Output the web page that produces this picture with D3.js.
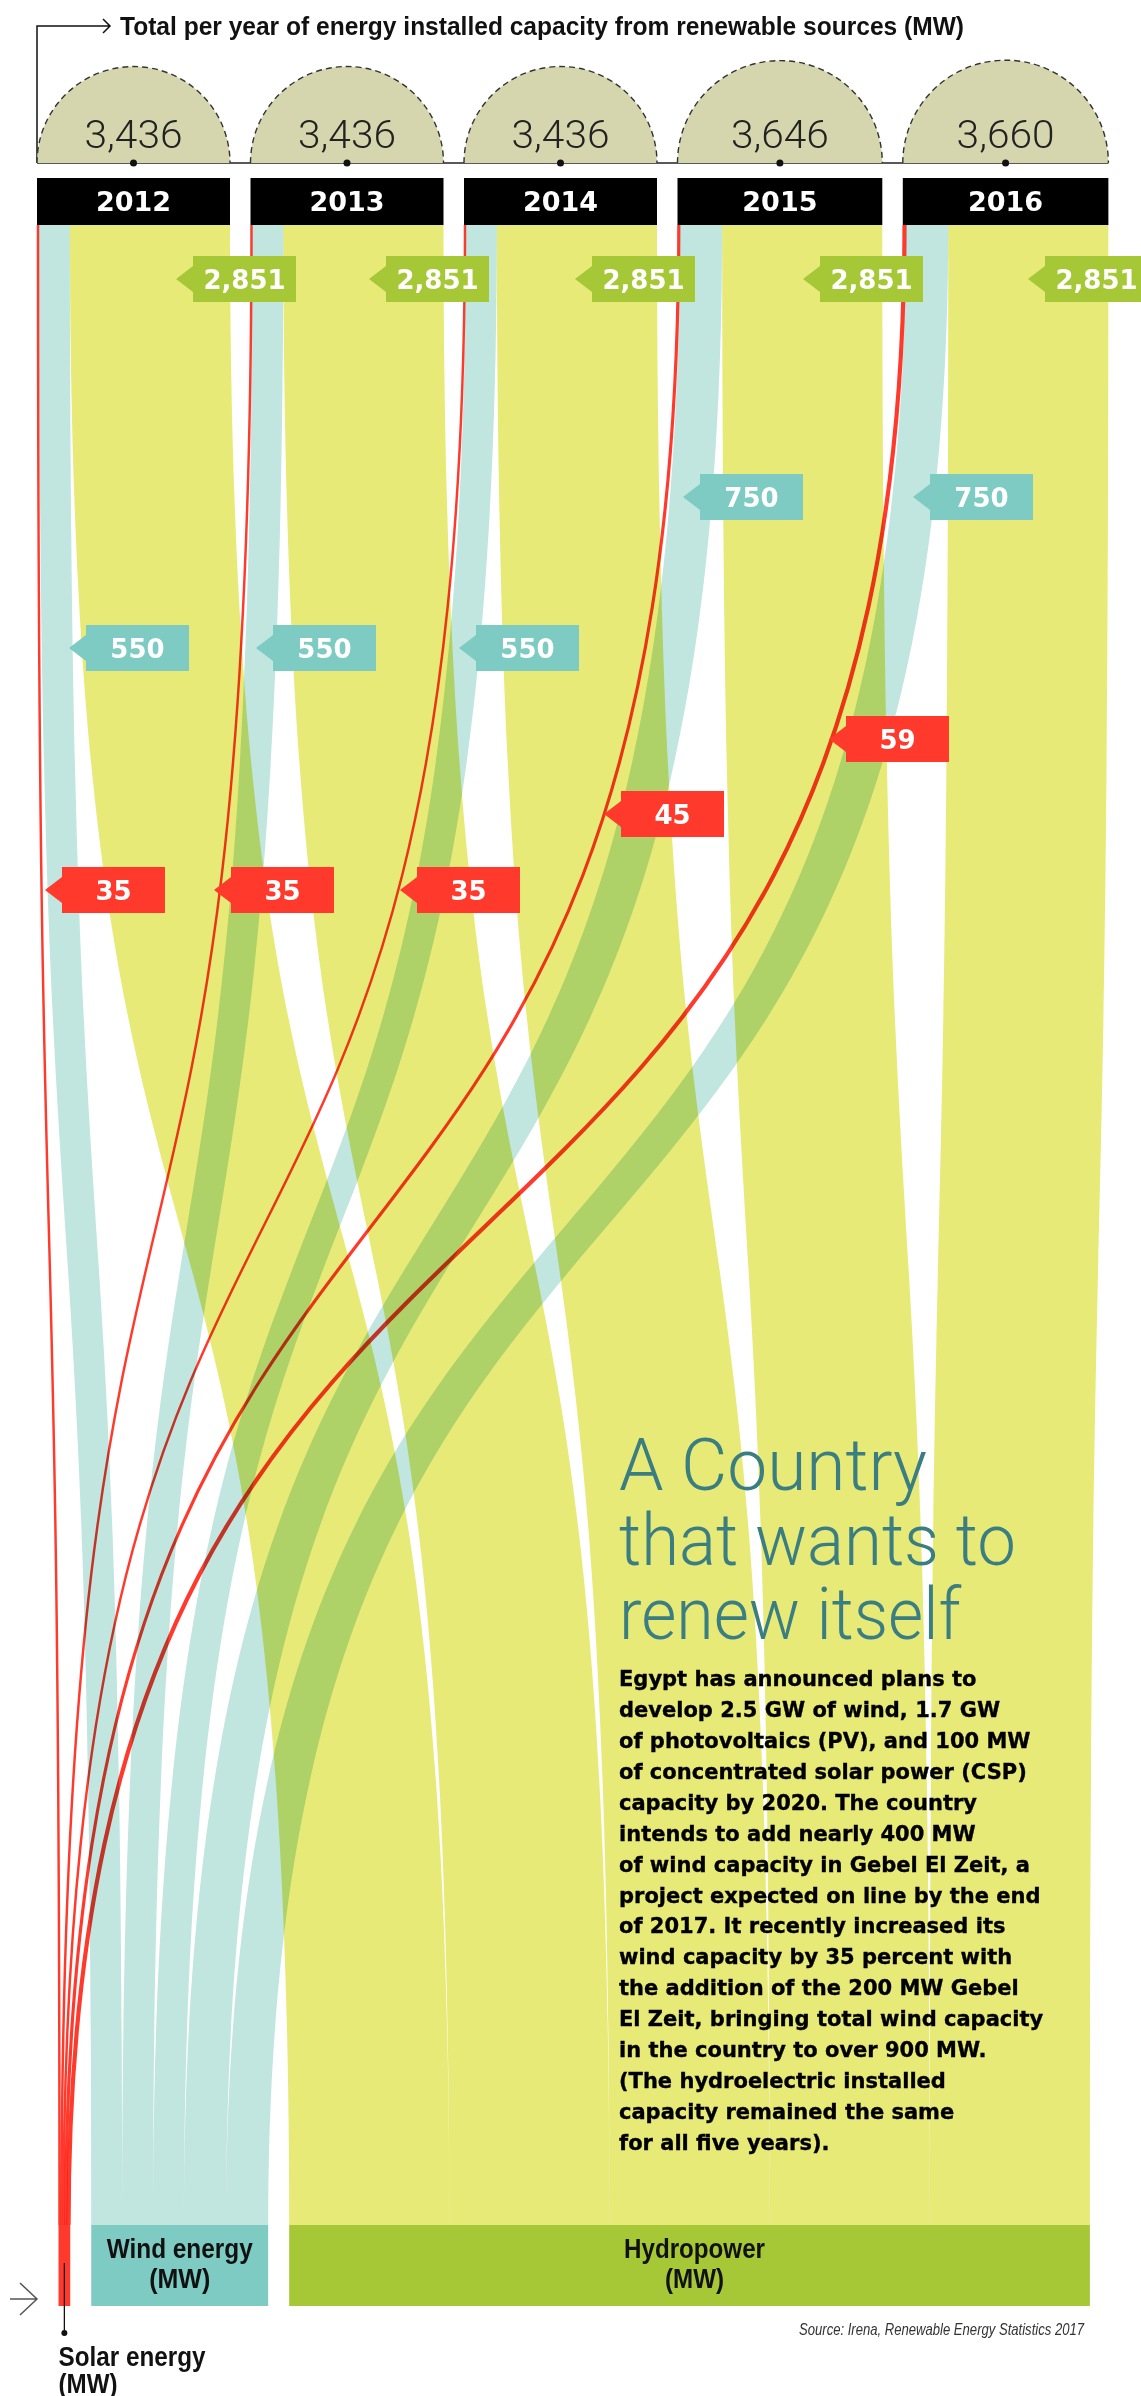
<!DOCTYPE html>
<html>
<head>
<meta charset="utf-8">
<script src="https://cdn.jsdelivr.net/npm/d3@7"></script>
<style>
  html, body { margin: 0; padding: 0; background: #fff; }
  svg { display: block; }
</style>
</head>
<body>
<script>
// ---------------- DATA ----------------
const years = ["2012", "2013", "2014", "2015", "2016"];
const solarMW = [35, 35, 35, 45, 59];
const windMW = [550, 550, 550, 750, 750];
const hydroMW = [2851, 2851, 2851, 2851, 2851];
const sourceLabels = [["Solar energy", "(MW)"], ["Wind energy", "(MW)"], ["Hydropower", "(MW)"]];
const titleText = "Total per year of energy installed capacity from renewable sources (MW)";
const headingLines = ["A Country", "that wants to", "renew itself"];
const bodyLines = [
  "Egypt has announced plans to",
  "develop 2.5 GW of wind, 1.7 GW",
  "of photovoltaics (PV), and 100 MW",
  "of concentrated solar power (CSP)",
  "capacity by 2020. The country",
  "intends to add nearly 400 MW",
  "of wind capacity in Gebel El Zeit, a",
  "project expected on line by the end",
  "of 2017. It recently increased its",
  "wind capacity by 35 percent with",
  "the addition of the 200 MW Gebel",
  "El Zeit, bringing total wind capacity",
  "in the country to over 900 MW.",
  "(The hydroelectric installed",
  "capacity remained the same",
  "for all five years)."
];
const sourceNote = "Source: Irena, Renewable Energy Statistics 2017";

// ---------------- LAYOUT (positions / styles, not data) ----------------
const W = 1141, H = 2396;
const colors = {
  solar: "#ff3a2d", wind: "#c1e5df", hydro: "#e8ea77",
  solarTag: "#ff3a2d", windTag: "#7dcbc2", hydroTag: "#a6c837",
  dome: "#d6d6ae", heading: "#3b7e82"
};
const topX0 = 37, topGap = 20.5, botX0 = 58.5, botGap = 21;
const yTop = 225, yBot = 2225, nodeBottom = 2306, curv = 0.6;
const baseY = 163;
// tag anchor (arrow tip) positions, hand placed like the original
const tagTips = {
  hydro: { x: [176, 369, 575, 803, 1028], y: [279, 279, 279, 279, 279] },
  wind:  { x: [69, 256, 459, 683, 913],   y: [648, 648, 648, 497, 497] },
  solar: { x: [45, 214, 400, 604, 829],   y: [890, 890, 890, 814, 739] }
};

const svg = d3.select("body").append("svg")
  .attr("width", W).attr("height", H).attr("viewBox", `0 0 ${W} ${H}`);
svg.append("rect").attr("width", W).attr("height", H).attr("fill", "#fff");

const totals = years.map((_, i) => solarMW[i] + windMW[i] + hydroMW[i]);
const px = d3.scaleLinear().domain([0, totals[0]]).range([0, 193]);
const fmt = d3.format(",");

// top segments
const series = [
  { key: "solar", vals: solarMW },
  { key: "wind", vals: windMW },
  { key: "hydro", vals: hydroMW }
];
const cols = [];
let cx = topX0;
years.forEach((y, i) => {
  const c = { year: y, x0: cx, total: totals[i], seg: {} };
  let x = cx;
  series.forEach(s => { const w = px(s.vals[i]); c.seg[s.key] = [x, x + w]; x += w; });
  c.x1 = x;
  cols.push(c);
  cx = x + topGap;
});
// bottom nodes
const nodes = {};
let bx = botX0;
series.forEach(s => {
  const n = { x0: bx, parts: [] };
  let x = bx;
  s.vals.forEach(v => { const w = px(v); n.parts.push([x, x + w]); x += w; });
  n.x1 = x;
  nodes[s.key] = n;
  bx = x + botGap;
});

const dyAll = yBot - yTop;
function flowPath(a0, a1, b0, b1) {
  const p = d3.path();
  p.moveTo(a0, yTop);
  p.bezierCurveTo(a0, yTop + curv * dyAll, b0, yBot - curv * dyAll, b0, yBot);
  p.lineTo(b1, yBot);
  p.bezierCurveTo(b1, yBot - curv * dyAll, a1, yTop + curv * dyAll, a1, yTop);
  p.closePath();
  return p.toString();
}
function linePath(a, b) {
  const p = d3.path();
  p.moveTo(a, yTop);
  p.bezierCurveTo(a, yTop + curv * dyAll, b, yBot - curv * dyAll, b, yBot);
  return p.toString();
}

// flows
const gFlows = svg.append("g");
["hydro", "wind"].forEach(key => {
  years.forEach((y, i) => {
    const a = cols[i].seg[key], b = nodes[key].parts[i];
    gFlows.append("path")
      .attr("d", flowPath(a[0], a[1], b[0], b[1]))
      .attr("fill", colors[key])
      .style("mix-blend-mode", "multiply");
  });
});
years.forEach((y, i) => {
  const a = cols[i].seg.solar, b = nodes.solar.parts[i];
  gFlows.append("path")
    .attr("d", linePath((a[0] + a[1]) / 2, (b[0] + b[1]) / 2))
    .attr("fill", "none").attr("stroke", colors.solar)
    .attr("stroke-width", (a[1] - a[0]) * 1.25)
    .style("mix-blend-mode", "multiply");
});

// bottom node boxes
const nodeFill = { solar: colors.solar, wind: colors.windTag, hydro: colors.hydroTag };
series.forEach(s => {
  svg.append("rect")
    .attr("x", nodes[s.key].x0).attr("y", yBot)
    .attr("width", nodes[s.key].x1 - nodes[s.key].x0)
    .attr("height", nodeBottom - yBot)
    .attr("fill", nodeFill[s.key]);
});
const condensed = "'Liberation Sans Narrow','Liberation Sans',Arial,sans-serif";
function condText(g, txt, x, y, size, len, anchor) {
  return g.append("text").attr("x", x).attr("y", y).text(txt)
    .attr("font-family", condensed).attr("font-weight", "bold")
    .attr("font-size", size).attr("fill", "#111")
    .attr("text-anchor", anchor || "middle")
    .attr("textLength", len).attr("lengthAdjust", "spacingAndGlyphs");
}
const wc = (nodes.wind.x0 + nodes.wind.x1) / 2;
condText(svg, sourceLabels[1][0], wc, 2258, 28, 146);
condText(svg, sourceLabels[1][1], wc, 2288, 28, 61);
const hc = (nodes.hydro.x0 + nodes.hydro.x1) / 2 + 5;
condText(svg, sourceLabels[2][0], hc, 2258, 28, 141);
condText(svg, sourceLabels[2][1], hc, 2288, 28, 59);
// solar label with connector
const sc = (nodes.solar.x0 + nodes.solar.x1) / 2;
svg.append("line").attr("x1", sc).attr("x2", sc).attr("y1", 2263).attr("y2", 2333)
  .attr("stroke", "#111").attr("stroke-width", 1.3);
svg.append("circle").attr("cx", sc).attr("cy", 2333).attr("r", 3).attr("fill", "#111");
condText(svg, sourceLabels[0][0], nodes.solar.x0, 2366, 27, 147, "start");
condText(svg, sourceLabels[0][1], nodes.solar.x0, 2393, 27, 59, "start");
// left arrow
svg.append("path").attr("d", "M10,2299 L37,2299 M20,2283 L37,2299 L20,2315")
  .attr("fill", "none").attr("stroke", "#555").attr("stroke-width", 1.5);
// source
svg.append("text").attr("x", 1084).attr("y", 2335).text(sourceNote)
  .attr("font-family", condensed).attr("font-style", "italic")
  .attr("font-size", 17).attr("fill", "#333").attr("text-anchor", "end")
  .attr("textLength", 285).attr("lengthAdjust", "spacingAndGlyphs");

// domes, base line, dots, totals
const gTop = svg.append("g");
gTop.append("path")
  .attr("d", `M${topX0},${baseY} L${topX0},26 L110,26 M103,19 L110,26 L103,33`)
  .attr("fill", "none").attr("stroke", "#111").attr("stroke-width", 1.5);
gTop.append("line").attr("x1", topX0).attr("x2", cols[cols.length - 1].x1)
  .attr("y1", baseY).attr("y2", baseY).attr("stroke", "#222").attr("stroke-width", 1.5);
cols.forEach((c, i) => {
  const r = (c.x1 - c.x0) / 2;
  gTop.append("path")
    .attr("d", `M${c.x0},${baseY} A${r},${r} 0 0 1 ${c.x1},${baseY} Z`)
    .attr("fill", colors.dome).attr("stroke", "none");
  gTop.append("path")
    .attr("d", `M${c.x0},${baseY} A${r},${r} 0 0 1 ${c.x1},${baseY}`)
    .attr("fill", "none").attr("stroke", "#333").attr("stroke-width", 1.4)
    .attr("stroke-dasharray", "6,4");
  const mid = (c.x0 + c.x1) / 2;
  gTop.append("circle").attr("cx", mid).attr("cy", baseY).attr("r", 3.5).attr("fill", "#111");
  gTop.append("text").attr("x", mid).attr("y", 148).text(fmt(c.total))
    .attr("font-family", "Roboto, 'Liberation Sans', sans-serif").attr("font-weight", 300)
    .attr("font-size", 39).attr("fill", "#222").attr("text-anchor", "middle")
    .attr("textLength", 98).attr("lengthAdjust", "spacingAndGlyphs");
  // year box
  gTop.append("rect").attr("x", c.x0).attr("y", 178).attr("width", c.x1 - c.x0).attr("height", yTop - 178)
    .attr("fill", "#000");
  gTop.append("text").attr("x", mid).attr("y", 211).text(c.year)
    .attr("font-family", "'DejaVu Sans', sans-serif").attr("font-weight", "bold")
    .attr("font-size", 27).attr("fill", "#fff").attr("text-anchor", "middle");
});
// title
svg.append("text").attr("x", 120).attr("y", 35).text(titleText)
  .attr("font-family", condensed).attr("font-weight", "bold").attr("font-size", 25)
  .attr("fill", "#111").attr("textLength", 844).attr("lengthAdjust", "spacingAndGlyphs");

// heading and body text
const headLens = [308, 397, 342];
const headBase = [1490, 1565, 1639];
headingLines.forEach((t, i) => {
  svg.append("text").attr("x", 619).attr("y", headBase[i]).text(t)
    .attr("font-family", "Roboto, 'Liberation Sans', sans-serif").attr("font-weight", 300)
    .attr("font-size", 72).attr("fill", colors.heading)
    .attr("textLength", headLens[i]).attr("lengthAdjust", "spacingAndGlyphs");
});
bodyLines.forEach((t, i) => {
  svg.append("text").attr("x", 619).attr("y", 1686 + i * 30.93).text(t)
    .attr("font-family", "'DejaVu Sans', sans-serif").attr("font-weight", "bold")
    .attr("font-size", 21).attr("fill", "#000")
    .attr("stroke", "#000").attr("stroke-width", 0.35);
});

// value tags
function tag(tipX, tipY, label, fill) {
  const bw = 103, bh = 46, al = 17, ah = 13;
  const x0 = tipX + al, y0 = tipY - bh / 2;
  const g = svg.append("g");
  g.append("path")
    .attr("d", `M${tipX},${tipY} L${x0},${tipY - ah} L${x0},${y0} L${x0 + bw},${y0} L${x0 + bw},${y0 + bh} L${x0},${y0 + bh} L${x0},${tipY + ah} Z`)
    .attr("fill", fill);
  g.append("text").attr("x", x0 + bw / 2).attr("y", tipY + 9.5).text(label)
    .attr("font-family", "'DejaVu Sans', sans-serif").attr("font-weight", "bold")
    .attr("font-size", 26).attr("fill", "#fff").attr("text-anchor", "middle");
}
years.forEach((y, i) => {
  tag(tagTips.hydro.x[i], tagTips.hydro.y[i], fmt(hydroMW[i]), colors.hydroTag);
  tag(tagTips.wind.x[i], tagTips.wind.y[i], fmt(windMW[i]), colors.windTag);
  tag(tagTips.solar.x[i], tagTips.solar.y[i], fmt(solarMW[i]), colors.solarTag);
});
</script>
</body>
</html>
